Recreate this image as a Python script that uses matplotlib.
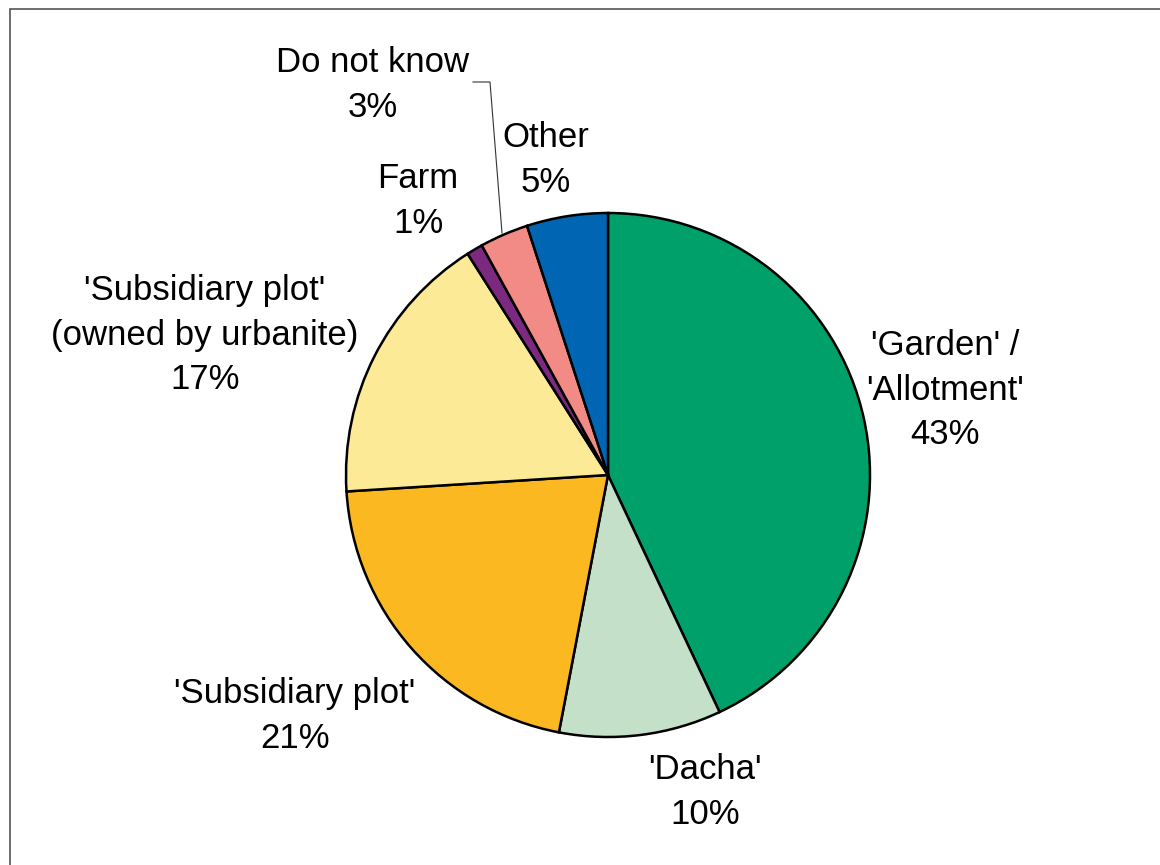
import matplotlib.pyplot as plt
from matplotlib.patches import Rectangle

plt.rcParams['font.family'] = ['Liberation Sans', 'DejaVu Sans']

categories = ["'Garden' /\n'Allotment'", "'Dacha'", "'Subsidiary plot'",
              "'Subsidiary plot'\n(owned by urbanite)", "Farm", "Do not know", "Other"]
shares = [43, 10, 21, 17, 1, 3, 5]
colors = ['#00A06A', '#C4E0C9', '#FBB820', '#FCEA96', '#7B2A80', '#F28B86', '#0066B3']

# label centres in pixel coordinates (y measured from top)
label_pos = [(945, 390), (705, 792), (295, 716), (205, 335), (418, 201), (373, 85), (546, 160)]

W, H = 1160, 865
fig = plt.figure(figsize=(W / 100, H / 100), dpi=100)
ax = fig.add_axes([0, 0, 1, 1])

cx, cy, r = 608, H - 475, 262
ax.pie(shares, colors=colors, startangle=90, counterclock=False,
       center=(cx, cy), radius=r, frame=True,
       wedgeprops=dict(edgecolor='black', linewidth=1.8))
ax.set_xlim(0, W)
ax.set_ylim(0, H)
ax.set_aspect('equal')
ax.axis('off')

for name, val, (x, y) in zip(categories, shares, label_pos):
    ax.text(x, H - y, f"{name}\n{val}%", ha='center', va='center',
            fontsize=25, linespacing=1.45)

# leader line for the small "Do not know" slice
ax.plot([473, 490, 502], [H - 82, H - 82, H - 233], color='#333333', lw=0.8)

# outer border of the chart area (right and bottom run off the canvas)
fig.patches.append(Rectangle((10 / W, -0.2), 1.2, 1.2 - 9 / H, transform=fig.transFigure,
                             fill=False, edgecolor='#555555', lw=1.2))

fig.savefig('out.png', dpi=100)
